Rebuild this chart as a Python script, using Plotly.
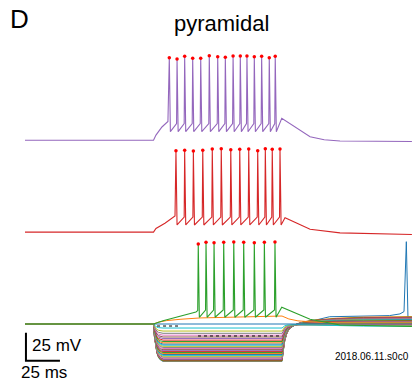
import plotly.graph_objects as go

# matplotlib tab10 cycle, one colour per sweep in acquisition order
TAB10 = ['#1f77b4', '#ff7f0e', '#2ca02c', '#d62728', '#9467bd',
         '#8c564b', '#e377c2', '#7f7f7f', '#bcbd22', '#17becf']

V_REST = -70.0          # mV
STIM_ON = 94.5          # ms
STIM_OFF = 189.0        # ms
T_END = 284.5           # ms
SWEEP_OFFSET = 82.0     # mV shift between the stacked suprathreshold sweeps

# --- hyperpolarising sweeps 0..29 --------------------------------------
# steady-state voltage during the current step (mV)
hyper_steady = [-103.4, -103.0, -102.7, -102.2, -101.7, -101.1, -100.4, -99.6,
                -98.8, -98.0, -97.2, -96.4, -95.5, -94.6, -93.8, -92.9, -91.9,
                -90.9, -89.9, -88.9, -87.9, -86.8, -85.6, -84.4, -83.0, -81.6,
                -80.0, -78.3, -76.3, -73.6]
# voltage at the end of sweeps 1..29 after the rebound (mV)
hyper_end = [-63.4, -63.9, -64.1, -64.6, -64.8, -65.3, -65.4, -65.9, -66.2,
             -66.4, -66.9, -67.0, -67.4, -67.8, -67.9, -68.3, -68.6, -68.8,
             -69.2, -69.4, -69.7, -70.1, -70.3, -70.6, -70.9, -71.2, -71.4,
             -71.7, -72.0]
# sweep 0: slow rebound that ends in a single late action potential
late_ramp_t = [224.0, 268.0, 275.7, 278.7]
late_ramp_v = [-63.5, -62.5, -61.0, -58.9]
late_spike_t = 280.4
late_spike_v = 3.5
late_after_t = [281.6, 284.5]
late_after_v = [-64.6, -64.0]

# --- sweep 30 (no step) and sweep 31 (subthreshold depolarisation) -------
zero_t = [0.0, STIM_ON, 100.0, 189.0, 200.0, 284.5]
zero_v = [-70.0, -70.0, -70.3, -70.3, -70.0, -69.6]
sub_t = [0.0, STIM_ON, 98.0, 104.0, 114.0, 128.7, 187.5, 189.0, 194.0, 200.7, 209.6, 230.0, 284.5]
sub_v = [-70.0, -70.0, -68.4, -67.0, -65.8, -64.6, -62.9, -62.9, -65.5, -67.2, -68.0, -69.0, -69.0]

# --- suprathreshold sweeps ----------------------------------------------
# sweep 32 (green)
s32_onset_t = [101.5, 114.0, 125.7, 127.0]
s32_onset_v = [-67.1, -62.9, -59.3, -58.0]
s32_spike_t = [127.4, 133.1, 139.0, 146.1, 153.5, 160.8, 168.6, 176.0, 183.8]
s32_spike_v = [1.4, 2.9, 2.6, 2.9, 3.2, 2.9, 2.6, 2.9, 3.2]
s32_threshold, s32_trough = -57.5, -64.0
s32_after_t = [188.8, 209.6, 231.6, 284.5]
s32_after_v = [-55.1, -65.8, -70.9, -72.2]

# sweep 33 (red)
s33_onset_t = [96.3, 102.9, 110.3]
s33_onset_v = [-66.7, -62.1, -55.6]
s33_spike_t = [111.0, 117.4, 123.8, 130.7, 137.7, 144.3, 151.3, 157.9, 164.5,
               171.1, 176.7, 181.8, 187.5]
s33_spike_v = [2.7, 3.1, 2.5, 3.1, 4.3, 4.5, 3.6, 4.0, 4.3, 2.7, 4.5, 4.0, 4.3]
s33_threshold, s33_trough = -56.5, -63.6
s33_after_t = [191.2, 209.6, 231.6, 284.5]
s33_after_v = [-57.1, -67.4, -70.6, -72.1]

# sweep 34 (purple)
s34_onset_t = [96.3, 100.7, 105.1]
s34_onset_v = [-65.3, -58.1, -53.2]
s34_spike_t = [106.1, 111.8, 117.4, 123.3, 129.2, 135.5, 141.7, 147.3, 153.0,
               158.3, 163.2, 168.6, 174.0, 179.6, 184.0]
s34_spike_v = [3.8, 2.6, 5.0, 3.2, 3.2, 5.6, 4.7, 4.1, 5.3, 5.3, 5.3, 4.7, 5.0, 3.8, 5.0]
s34_threshold, s34_trough = -55.0, -62.3
s34_after_t = [188.8, 209.6, 220.0, 231.6, 284.5]
s34_after_v = [-50.3, -66.8, -69.5, -70.6, -71.1]

# dotted analysis marks
mark_short_t = [97.1, 112.5]
mark_short_v = [-71.8, -71.8]
mark_long_t = [127.2, 189.0]
mark_long_v = [-80.7, -80.7]

# charging / discharging profile of the membrane at step edges (ms, fraction)
ONSET_PROFILE = [(0.7, 0.35), (1.5, 0.60), (2.5, 0.78), (3.7, 0.90), (5.0, 0.96), (7.0, 1.0)]
RELEASE_PROFILE = [(1.0, 0.30, 0.00), (2.0, 0.55, 0.02), (3.7, 0.76, 0.05),
                   (5.5, 0.85, 0.09), (7.4, 0.90, 0.13), (11.0, 0.96, 0.22),
                   (16.0, 0.99, 0.35), (25.0, 1.0, 0.55), (40.0, 1.0, 0.78),
                   (60.0, 1.0, 0.93)]


def hyper_trace(vs, ve, stop=T_END):
    t = [0.0, STIM_ON]
    v = [V_REST, V_REST]
    for dt, f in ONSET_PROFILE:
        t.append(STIM_ON + dt)
        v.append(V_REST + f * (vs - V_REST))
    t.append(STIM_OFF)
    v.append(vs)
    for dt, f, g in RELEASE_PROFILE:
        if STIM_OFF + dt >= stop:
            break
        t.append(STIM_OFF + dt)
        v.append(vs + f * (V_REST - vs) + g * (ve - V_REST))
    t.append(stop)
    v.append(ve)
    return t, v


def spiking_trace(on_t, on_v, sp_t, sp_v, thr, tr, af_t, af_v, shift):
    t = [0.0, STIM_ON] + list(on_t)
    v = [V_REST, V_REST] + list(on_v)
    for i, (ts, vp) in enumerate(zip(sp_t, sp_v)):
        if i > 0:
            t.append(ts - 0.35)
            v.append(thr)
        t += [ts, ts + 0.8]
        v += [vp, tr]
    t += list(af_t)
    v += list(af_v)
    return t, [x + shift for x in v]


fig = go.Figure()


def add_line(t, v, color, width=1.0, dash=None):
    fig.add_trace(go.Scatter(x=t, y=v, mode='lines', hoverinfo='skip',
                             line=dict(color=color, width=width, dash=dash)))


# sweep 0 with its late spike
t0, v0 = hyper_trace(hyper_steady[0], late_ramp_v[0], stop=late_ramp_t[0])
t0 += late_ramp_t[1:] + [late_spike_t] + late_after_t
v0 += late_ramp_v[1:] + [late_spike_v] + late_after_v
add_line(t0, v0, TAB10[0])

# sweeps 1..29
for k in range(1, 30):
    tk, vk = hyper_trace(hyper_steady[k], hyper_end[k - 1])
    add_line(tk, vk, TAB10[k % 10])

add_line(zero_t, zero_v, TAB10[30 % 10])
add_line(sub_t, sub_v, TAB10[31 % 10])

spiking = [
    (32, s32_onset_t, s32_onset_v, s32_spike_t, s32_spike_v, s32_threshold, s32_trough, s32_after_t, s32_after_v, 0.0),
    (33, s33_onset_t, s33_onset_v, s33_spike_t, s33_spike_v, s33_threshold, s33_trough, s33_after_t, s33_after_v, SWEEP_OFFSET),
    (34, s34_onset_t, s34_onset_v, s34_spike_t, s34_spike_v, s34_threshold, s34_trough, s34_after_t, s34_after_v, 2 * SWEEP_OFFSET),
]
for idx, ot, ov, st, sv, thr, tr, at, av, shift in spiking:
    tt, vv = spiking_trace(ot, ov, st, sv, thr, tr, at, av, shift)
    add_line(tt, vv, TAB10[idx % 10], width=1.1)

# dotted marks
add_line(mark_short_t, mark_short_v, 'black', width=1.0, dash='dot')
add_line(mark_long_t, mark_long_v, 'black', width=1.0, dash='dot')

# detected spike peaks
for idx, ot, ov, st, sv, thr, tr, at, av, shift in spiking:
    fig.add_trace(go.Scatter(x=st, y=[p + shift for p in sv], mode='markers',
                             hoverinfo='skip',
                             marker=dict(color='#ff0000', size=3.5, line=dict(width=0))))

# scale bar: 25 ms x 25 mV
SB_T, SB_V = 0.7, -102.8
SB_MS, SB_MV = 25.0, 25.0
add_line([SB_T, SB_T, SB_T + SB_MS], [SB_V + SB_MV, SB_V, SB_V], 'black', width=2)

FONT = 'Arial, Liberation Sans, sans-serif'
fig.add_annotation(x=SB_T + 3.2, y=SB_V + SB_MV / 2 + 1.5, xref='x', yref='y',
                   text='25 mV', showarrow=False, xanchor='left', yanchor='middle',
                   font=dict(family=FONT, size=17, color='black'))
fig.add_annotation(x=SB_T + 13.5, y=SB_V - 10.5, xref='x', yref='y',
                   text='25 ms', showarrow=False, xanchor='center', yanchor='middle',
                   font=dict(family=FONT, size=17, color='black'))
fig.add_annotation(x=T_END - 0.5, y=-98.6, xref='x', yref='y',
                   text='2018.06.11.s0c0', showarrow=False, xanchor='right', yanchor='middle',
                   font=dict(family=FONT, size=10, color='black'))
fig.add_annotation(x=8 / 413, y=1 - 19 / 384, xref='paper', yref='paper',
                   text='D', showarrow=False, xanchor='left', yanchor='middle',
                   font=dict(family=FONT, size=26, color='black'))
fig.add_annotation(x=222 / 413, y=1 - 23 / 384, xref='paper', yref='paper',
                   text='pyramidal', showarrow=False, xanchor='center', yanchor='middle',
                   font=dict(family=FONT, size=22, color='black'))

PX_PER_MS = 1.36
PX_PER_MV = 1.12
fig.update_layout(
    width=413, height=384, autosize=False,
    margin=dict(l=0, r=0, t=0, b=0, pad=0),
    paper_bgcolor='white', plot_bgcolor='white',
    showlegend=False,
    xaxis=dict(range=[-25 / PX_PER_MS, 388 / PX_PER_MS], visible=False, fixedrange=True),
    yaxis=dict(range=[V_REST - 60 / PX_PER_MV, V_REST + 324 / PX_PER_MV], visible=False, fixedrange=True),
)

fig.write_html('out.html')
